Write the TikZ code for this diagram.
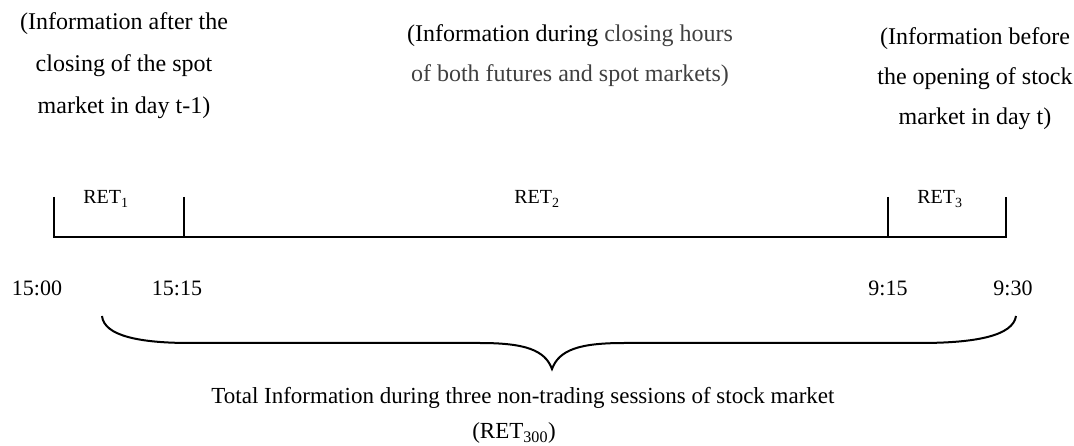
\documentclass[tikz,border=0pt]{standalone}
\usepackage{fontspec}
\setmainfont{Liberation Serif}
\definecolor{soft}{HTML}{404040}
\begin{document}
\begin{tikzpicture}[x=1pt,y=-1pt]
\tikzset{
 info/.style={align=center, font=\fontsize{24}{42}\selectfont, inner sep=0pt},
 ret/.style={font=\fontsize{20}{22}\selectfont, inner sep=0pt},
 time/.style={font=\fontsize{22}{24}\selectfont, inner sep=0pt},
 note/.style={font=\fontsize{23}{26}\selectfont, inner sep=0pt},
 axis/.style={line width=1.6pt},
 bracestroke/.style={line width=2pt}
}
\useasboundingbox (0,0) rectangle (1074,446);

% top information texts
\node[info] (infoA) at (124,66) {(Information after the\\closing of the spot\\market in day t-1)};
\node[info, font=\fontsize{24}{40}\selectfont] (infoB) at (570,56) {(Information during \textcolor{soft}{closing hours}\\\textcolor{soft}{of both futures and spot markets)}};
\node[info, font=\fontsize{24}{40}\selectfont] (infoC) at (975,79) {(Information before\\the opening of stock\\market in day t)};

% timeline
\coordinate (t0) at (54,237);
\coordinate (t1) at (184,237);
\coordinate (t2) at (888,237);
\coordinate (t3) at (1006,237);
\coordinate (u0) at (54,197);
\coordinate (u1) at (184,197);
\coordinate (u2) at (888,197);
\coordinate (u3) at (1006,197);
\draw[axis] (u0) -- (t0) -- (t3) -- (u3);
\draw[axis] (u1) -- (t1);
\draw[axis] (u2) -- (t2);

\node[ret] (ret1) at (106,199) {RET\textsubscript{1}};
\node[ret] (ret2) at (537,199) {RET\textsubscript{2}};
\node[ret] (ret3) at (940,199) {RET\textsubscript{3}};

\node[time] (h1500) at (37,288) {15:00};
\node[time] (h1515) at (177,288) {15:15};
\node[time] (h915) at (888,288) {9:15};
\node[time] (h930) at (1013,288) {9:30};

% brace
\coordinate (bl) at (102,316);
\coordinate (br) at (1016,316);
\coordinate (bt) at (552,369);
\draw[bracestroke] (bl) .. controls (104,336) and (140,343) .. (190,343)
  -- (480,343) .. controls (525,343) and (545,350) .. (bt)
  .. controls (559,350) and (579,343) .. (624,343)
  -- (920,343) .. controls (975,343) and (1013,336) .. (br);

\node[note] (total) at (523,398) {Total Information during three non-trading sessions of stock market};
\node[note] (ret300) at (514,433) {(RET\textsubscript{300})};
\end{tikzpicture}
\end{document}
